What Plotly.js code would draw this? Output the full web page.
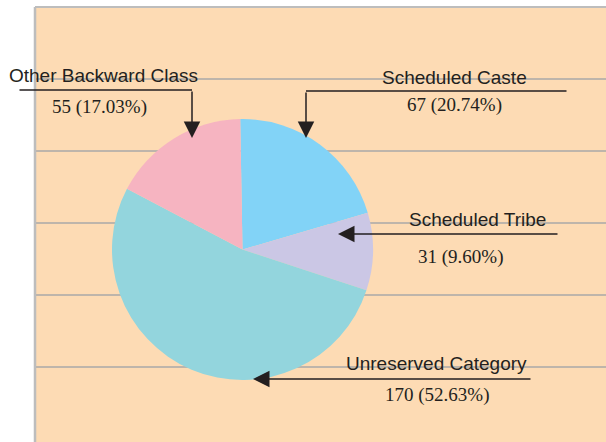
<!DOCTYPE html>
<html>
<head>
<meta charset="utf-8">
<script src="https://cdn.plot.ly/plotly-3.0.1.min.js"></script>
<style>html,body{margin:0;padding:0;background:#fff;}#chart{width:606px;height:442px;}</style>
</head>
<body>
<div id="chart"></div>
<script>
// Data (pie drawn clockwise starting just left of 12 o'clock)
const categories = ["Scheduled Caste", "Scheduled Tribe", "Unreserved Category", "Other Backward Class"];
const counts = [67, 31, 170, 55];
const percentLabels = ["20.74%", "9.60%", "52.63%", "17.03%"];
const sliceColors = ["#82D3F7", "#CBC7E5", "#93D5DD", "#F6B4C1"];

// Decorative background grid positions (pixel rows)
const gridRows = [79, 151, 223, 295, 367];

const W = 606, H = 442;
const ink = "#231F20";

// Callout layout: label centre, value centre, tip, tail, optional elbow line
const callouts = [
  {label:[454, 77],  value:[454, 105], tip:[306, 138], tail:[306, 91], elbow:[568, 91]},
  {label:[477, 219], value:[460, 257], tip:[338, 234], tail:[559, 234], elbow:null},
  {label:[436, 363], value:[437, 395], tip:[253, 379], tail:[532, 379], elbow:null},
  {label:[103, 75],  value:[99, 107],  tip:[192, 138], tail:[192, 90], elbow:[18, 90]}
];

const shapes = [
  {type:"rect", xref:"x", yref:"y", x0:35, x1:W, y0:7, y1:H, fillcolor:"#FDDBB4", line:{width:0}, layer:"below"}
];
gridRows.forEach(y => shapes.push({type:"line", xref:"x", yref:"y", x0:35, x1:W, y0:y, y1:y, line:{color:"#A9A9A9", width:1.5}, layer:"below"}));
shapes.push({type:"line", xref:"x", yref:"y", x0:35, x1:35, y0:7, y1:H, line:{color:"#BDBDBD", width:2.5}, layer:"below"});
shapes.push({type:"line", xref:"x", yref:"y", x0:35, x1:W, y0:7, y1:7, line:{color:"#BDBDBD", width:2}, layer:"below"});

const annotations = [];
categories.forEach((c, i) => {
  const k = callouts[i];
  annotations.push({xref:"x", yref:"y", x:k.label[0], y:k.label[1], text:c, showarrow:false,
    xanchor:"center", yanchor:"middle", font:{family:"Liberation Sans, Arial, sans-serif", size:19, color:ink}});
  annotations.push({xref:"x", yref:"y", x:k.value[0], y:k.value[1], text:counts[i] + " (" + percentLabels[i] + ")", showarrow:false,
    xanchor:"center", yanchor:"middle", font:{family:"Liberation Serif, Times New Roman, serif", size:19, color:ink}});
  annotations.push({xref:"x", yref:"y", axref:"x", ayref:"y", x:k.tip[0], y:k.tip[1], ax:k.tail[0], ay:k.tail[1],
    text:"", showarrow:true, arrowhead:2, arrowsize:2.2, arrowwidth:1.5, arrowcolor:ink, standoff:0});
  if (k.elbow) {
    annotations.push({xref:"x", yref:"y", axref:"x", ayref:"y", x:k.tail[0], y:k.tail[1], ax:k.elbow[0], ay:k.elbow[1],
      text:"", showarrow:true, arrowhead:0, arrowwidth:1.5, arrowcolor:ink, standoff:0});
  }
});

const data = [
  {type:"scatter", x:[], y:[], hoverinfo:"skip", showlegend:false},
  {type:"pie", labels:categories, values:counts, sort:false, direction:"clockwise", rotation:-1,
   marker:{colors:sliceColors, line:{width:0}}, textinfo:"none", hoverinfo:"label+value+percent",
   showlegend:false, domain:{x:[112/W, 373/W], y:[(H-380)/H, (H-119)/H]}}
];

const layout = {
  width:W, height:H, margin:{l:0, r:0, t:0, b:0},
  paper_bgcolor:"#ffffff", plot_bgcolor:"#ffffff",
  xaxis:{range:[0, W], visible:false, fixedrange:true},
  yaxis:{range:[H, 0], visible:false, fixedrange:true},
  shapes:shapes, annotations:annotations, showlegend:false
};

Plotly.newPlot("chart", data, layout, {displayModeBar:false, staticPlot:true});
</script>
</body>
</html>
